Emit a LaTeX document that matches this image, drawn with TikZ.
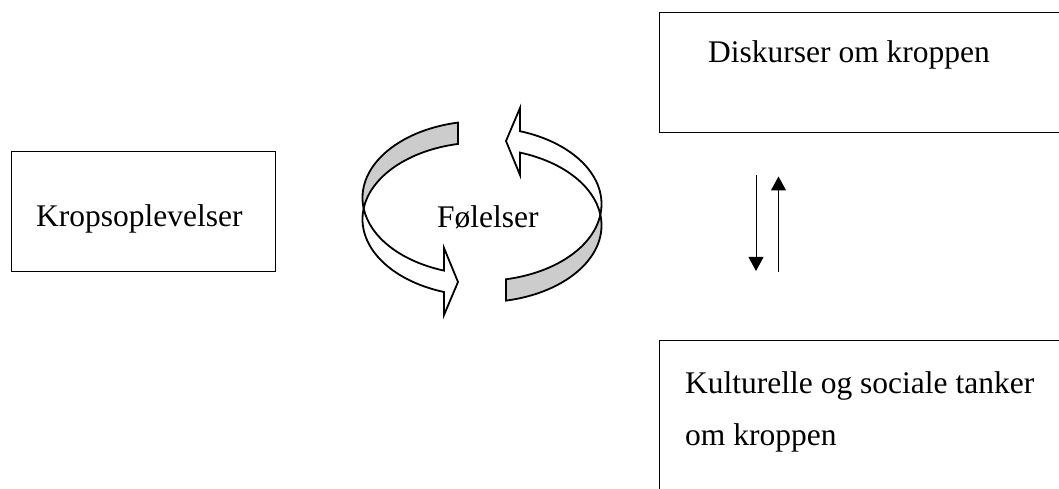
\documentclass[tikz,border=0pt]{standalone}
\usepackage{fontspec}
\setmainfont{Liberation Serif}
\usetikzlibrary{arrows.meta}
\definecolor{baand}{RGB}{204,204,204}
\tikzset{
	boks/.style={draw, line width=1.3pt, inner sep=0pt},
	tekst/.style={inner sep=0pt, anchor=base west, font=\fontsize{31.5}{52.7}\selectfont},
	pil/.style={line width=1pt, -{Triangle[length=14pt,width=15pt]}},
	ring/.style={line width=1.8pt, line join=miter},
	ell/.style={x radius=119.5, y radius=76.8},
}
\begin{document}
\begin{tikzpicture}[x=1pt, y=1pt]
	\useasboundingbox (0,0) rectangle (1059,489);
	\clip (0,0) rectangle (1059,489);

	% kasser
	\node[boks, anchor=south west, minimum width=264, minimum height=120] (kb) at (11,217) {};
	\node[boks, anchor=south west, minimum width=420, minimum height=120] (db) at (659,356) {};
	\node[boks, anchor=north west, minimum width=420, minimum height=170] (kub) at (659,149) {};

	\node[tekst] (krop) at (36,262) {Kropsoplevelser};
	\node[tekst] (foel) at (437,261) {Følelser};
	\node[tekst] (disk) at (708,426) {Diskurser om kroppen};
	\node[tekst, align=left] (kult) at (685,43) {Kulturelle og sociale tanker\\om kroppen};

	% kredsløb, venstre pil
	\filldraw[ring, fill=baand] ([shift={(482,291.2)}]101.6:119.5 and 76.8) arc[ell, start angle=101.6, end angle=188] arc[ell, start angle=172, end angle=101.6] -- cycle;
	\filldraw[ring, fill=white] ([shift={(482,291.2)}]188:119.5 and 76.8) arc[ell, start angle=188, end angle=251.5] -- (444,241) -- (458,207) -- (444,174) -- ([shift={(482,269.8)}]251.5:119.5 and 76.8) arc[ell, start angle=251.5, end angle=172] -- cycle;
	% kredsløb, højre pil
	\filldraw[ring, fill=baand] ([shift={(482,263.6)}]281.6:119.5 and 76.8) arc[ell, start angle=281.6, end angle=368] arc[ell, start angle=352, end angle=281.6] -- cycle;
	\filldraw[ring, fill=white] ([shift={(482,263.6)}]8:119.5 and 76.8) arc[ell, start angle=8, end angle=71.5] -- (520,314) -- (506,348) -- (520,381) -- ([shift={(482,285)}]71.5:119.5 and 76.8) arc[ell, start angle=71.5, end angle=-8] -- cycle;

	% pile mellem kasserne
	\coordinate (n1) at (756,314);
	\coordinate (n2) at (756,218);
	\coordinate (o1) at (778.5,216.5);
	\coordinate (o2) at (778.5,312.5);
	\draw[pil] (n1) -- (n2);
	\draw[pil] (o1) -- (o2);
\end{tikzpicture}
\end{document}
